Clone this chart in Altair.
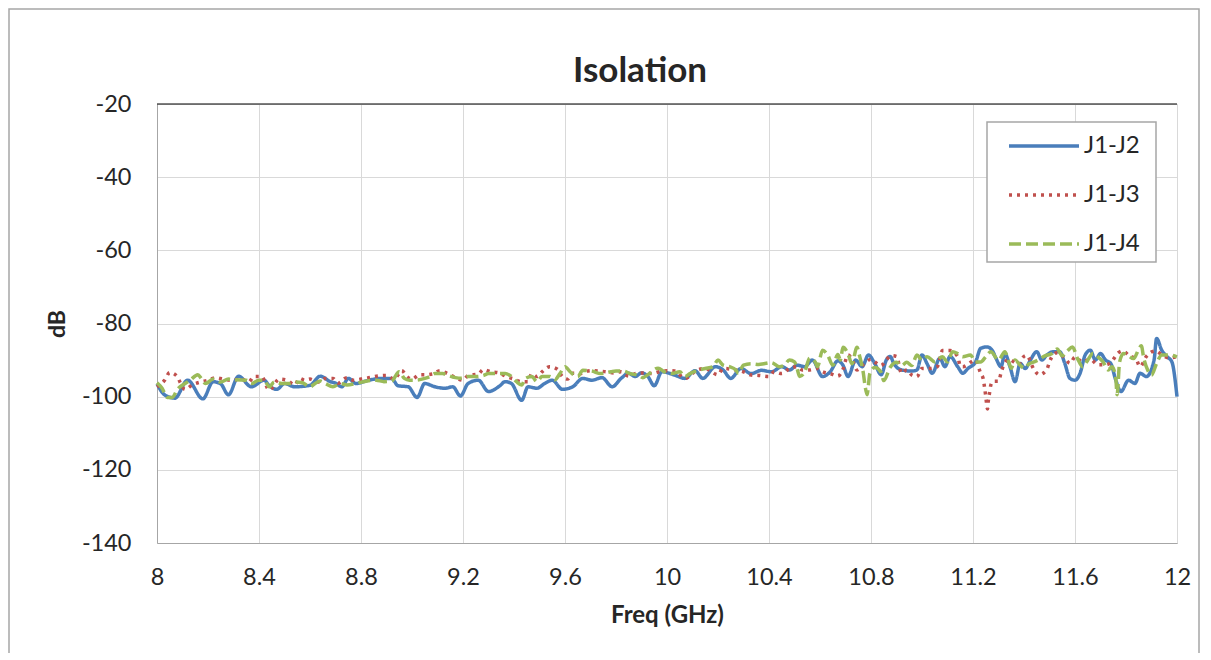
import altair as alt
import pandas as pd

# ---- data ----
series_names = ["J1-J2", "J1-J3", "J1-J4"]
series_colors = ["#4a7ebb", "#c0504d", "#9bbb59"]

j12_freq = [8.00, 8.03, 8.07, 8.12, 8.18, 8.22, 8.25, 8.28, 8.32, 8.37, 8.42, 8.44, 8.47, 8.50, 8.54,
            8.60, 8.64, 8.68, 8.70, 8.725, 8.75, 8.78, 8.83, 8.88, 8.92, 8.945, 8.985, 9.02, 9.05, 9.09,
            9.13, 9.16, 9.19, 9.22, 9.26, 9.30, 9.345, 9.365, 9.39, 9.43, 9.455, 9.49, 9.52, 9.55, 9.59,
            9.63, 9.67, 9.705, 9.745, 9.785, 9.82, 9.85, 9.875, 9.90, 9.925, 9.95, 9.98, 10.03, 10.07,
            10.11, 10.14, 10.19, 10.22, 10.25, 10.29, 10.33, 10.37, 10.41, 10.45, 10.48, 10.51, 10.54,
            10.57, 10.61, 10.64, 10.67, 10.69, 10.71, 10.74, 10.765, 10.79, 10.815, 10.84, 10.86, 10.875,
            10.89, 10.92, 10.96, 10.98, 11.00, 11.02, 11.04, 11.07, 11.09, 11.11, 11.14, 11.16, 11.18,
            11.21, 11.23, 11.255, 11.275, 11.29, 11.31, 11.325, 11.345, 11.365, 11.385, 11.405, 11.425,
            11.45, 11.47, 11.49, 11.515, 11.54, 11.56, 11.58, 11.60, 11.62, 11.64, 11.66, 11.68, 11.70,
            11.72, 11.74, 11.76, 11.78, 11.81, 11.835, 11.855, 11.88, 11.91, 11.92, 11.94, 11.96, 11.98,
            12.00]
j12_db = [-96.5, -99.5, -100.4, -95.5, -100.6, -95.9, -96.5, -99.5, -94.4, -97.3, -95.5, -97.0, -98.0,
          -96.4, -97.3, -96.9, -94.4, -95.9, -96.3, -97.3, -95.0, -96.4, -95.5, -95.0, -95.0, -97.0,
          -97.3, -100.2, -96.4, -97.3, -97.7, -97.3, -99.8, -96.4, -95.5, -98.6, -97.0, -95.9, -96.4,
          -101.0, -97.3, -97.7, -96.4, -95.5, -98.0, -97.3, -95.0, -95.5, -94.8, -97.3, -95.0, -93.6,
          -94.5, -93.5, -94.5, -97.0, -93.2, -94.1, -95.0, -92.9, -95.0, -91.8, -92.7, -95.0, -92.3,
          -93.7, -92.8, -93.2, -91.8, -92.7, -91.4, -91.8, -90.0, -94.5, -93.2, -90.2, -91.4, -94.5,
          -90.0, -91.8, -88.6, -91.0, -94.0, -90.0, -89.0, -91.0, -92.7, -93.0, -92.7, -88.6, -91.0,
          -93.6, -89.5, -91.8, -89.0, -91.8, -93.6, -92.3, -90.5, -86.8, -86.4, -87.3, -89.5, -91.8,
          -88.2, -91.8, -95.9, -90.9, -92.3, -90.0, -87.7, -90.0, -88.6, -87.7, -87.7, -90.9, -95.0,
          -95.5, -93.6, -88.6, -87.3, -90.0, -88.2, -90.0, -90.9, -95.5, -98.6, -95.5, -96.4, -93.6,
          -94.5, -90.0, -84.1, -87.3, -89.0, -90.5, -100.0]

j13_freq = [8.00, 8.03, 8.05, 8.08, 8.09, 8.11, 8.14, 8.17, 8.20, 8.23, 8.26, 8.29, 8.33, 8.36, 8.38,
            8.41, 8.44, 8.48, 8.51, 8.54, 8.56, 8.58, 8.60, 8.63, 8.66, 8.69, 8.71, 8.745, 8.77, 8.80,
            8.82, 8.86, 8.90, 8.93, 8.96, 8.98, 9.00, 9.03, 9.05, 9.08, 9.11, 9.14, 9.17, 9.20, 9.22,
            9.26, 9.28, 9.31, 9.34, 9.37, 9.40, 9.43, 9.455, 9.47, 9.49, 9.51, 9.54, 9.57, 9.59, 9.61,
            9.63, 9.66, 9.69, 9.71, 9.76, 9.79, 9.82, 9.85, 9.875, 9.905, 9.94, 9.97, 10.00, 10.03,
            10.07, 10.12, 10.15, 10.20, 10.22, 10.27, 10.30, 10.33, 10.36, 10.40, 10.42, 10.45, 10.48,
            10.51, 10.53, 10.56, 10.59, 10.61, 10.64, 10.67, 10.69, 10.71, 10.73, 10.745, 10.77, 10.80,
            10.815, 10.84, 10.86, 10.88, 10.90, 10.92, 10.94, 10.96, 10.98, 11.00, 11.03, 11.06, 11.08,
            11.11, 11.14, 11.15, 11.16, 11.21, 11.23, 11.24, 11.245, 11.25, 11.253, 11.257, 11.26,
            11.265, 11.27, 11.28, 11.30, 11.31, 11.32, 11.34, 11.38, 11.39, 11.41, 11.44, 11.46, 11.49,
            11.50, 11.515, 11.53, 11.56, 11.58, 11.60, 11.63, 11.66, 11.69, 11.72, 11.74, 11.77, 11.79,
            11.81, 11.84, 11.855, 11.88, 11.915, 11.95, 11.97, 12.00]
j13_db = [-97.3, -95.5, -93.4, -94.5, -96.0, -98.0, -96.7, -96.0, -95.5, -94.8, -95.2, -95.5, -95.2,
          -96.0, -94.5, -94.5, -98.2, -95.2, -95.5, -96.8, -95.0, -95.5, -95.2, -96.0, -95.0, -95.0,
          -96.3, -94.8, -95.5, -95.2, -95.0, -94.4, -94.2, -95.2, -92.9, -94.5, -95.2, -94.0, -94.0,
          -93.8, -92.9, -93.7, -94.8, -95.5, -94.2, -93.8, -92.6, -93.2, -93.5, -94.5, -95.2, -95.9,
          -95.9, -93.7, -94.5, -93.2, -91.8, -92.5, -94.5, -95.2, -93.6, -93.7, -93.0, -92.9, -93.2,
          -93.5, -93.2, -94.4, -93.7, -93.5, -93.7, -93.2, -92.9, -93.0, -95.0, -92.7, -92.3, -94.0,
          -92.3, -92.7, -93.2, -94.1, -94.2, -94.5, -93.2, -93.7, -92.3, -91.8, -92.7, -92.7, -92.3,
          -93.2, -93.7, -94.4, -92.5, -88.6, -90.5, -92.7, -91.2, -89.8, -90.5, -91.5, -89.9, -88.8,
          -89.0, -93.6, -92.7, -94.1, -94.5, -92.3, -92.3, -91.8, -87.4, -87.4, -89.0, -91.6, -91.8,
          -90.0, -93.6, -95.1, -97.3, -99.9, -101.8, -103.4, -101.2, -98.9, -96.8, -95.8, -95.8,
          -93.5, -91.4, -89.8, -91.2, -89.8, -88.7, -92.7, -94.0, -92.5, -90.5, -88.5, -88.0, -89.4,
          -90.9, -89.2, -90.5, -89.8, -91.3, -91.3, -90.7, -88.0, -87.5, -88.7, -89.8, -91.8, -89.0,
          -87.5, -89.0, -89.4, -89.0]

j14_freq = [8.00, 8.02, 8.04, 8.06, 8.08, 8.11, 8.13, 8.16, 8.175, 8.19, 8.22, 8.25, 8.28, 8.31, 8.35,
            8.37, 8.40, 8.42, 8.44, 8.46, 8.49, 8.52, 8.54, 8.57, 8.60, 8.62, 8.64, 8.66, 8.69, 8.72,
            8.745, 8.78, 8.81, 8.86, 8.89, 8.92, 8.95, 8.97, 8.99, 9.01, 9.05, 9.07, 9.09, 9.12, 9.14,
            9.17, 9.20, 9.22, 9.25, 9.28, 9.30, 9.325, 9.365, 9.39, 9.41, 9.43, 9.445, 9.47, 9.49, 9.51,
            9.54, 9.56, 9.58, 9.60, 9.62, 9.65, 9.67, 9.705, 9.74, 9.78, 9.80, 9.83, 9.855, 9.89, 9.905,
            9.93, 9.965, 9.99, 10.02, 10.05, 10.07, 10.09, 10.12, 10.15, 10.18, 10.20, 10.22, 10.245,
            10.27, 10.28, 10.30, 10.33, 10.36, 10.38, 10.41, 10.44, 10.46, 10.48, 10.50, 10.51, 10.52,
            10.54, 10.56, 10.58, 10.59, 10.61, 10.63, 10.65, 10.67, 10.68, 10.69, 10.71, 10.725, 10.745,
            10.755, 10.77, 10.778, 10.785, 10.79, 10.795, 10.815, 10.84, 10.85, 10.875, 10.90, 10.92,
            10.94, 10.96, 10.98, 11.00, 11.02, 11.05, 11.08, 11.10, 11.12, 11.14, 11.16, 11.19, 11.21,
            11.23, 11.25, 11.27, 11.30, 11.325, 11.34, 11.35, 11.365, 11.385, 11.40, 11.42, 11.44,
            11.455, 11.48, 11.51, 11.53, 11.55, 11.57, 11.59, 11.61, 11.63, 11.65, 11.67, 11.69, 11.71,
            11.73, 11.745, 11.76, 11.765, 11.775, 11.79, 11.805, 11.83, 11.85, 11.86, 11.87, 11.885,
            11.90, 11.92, 11.94, 11.97, 12.00]
j14_db = [-96.2, -97.7, -100.2, -100.2, -98.0, -96.4, -95.5, -94.0, -95.2, -96.4, -95.2, -96.0, -95.2,
          -95.4, -95.5, -96.4, -95.5, -95.5, -97.3, -96.0, -96.4, -96.4, -96.0, -96.2, -97.3, -96.4,
          -95.7, -96.4, -97.3, -96.4, -96.8, -96.4, -95.9, -95.5, -95.9, -95.7, -93.2, -95.0, -95.5,
          -95.5, -95.0, -94.5, -93.7, -93.7, -94.2, -94.8, -95.0, -94.5, -94.5, -94.2, -93.7, -93.7,
          -93.7, -94.5, -95.9, -96.8, -95.0, -94.5, -95.9, -94.5, -94.5, -95.4, -93.7, -91.8, -93.2,
          -94.5, -92.8, -93.0, -93.7, -93.2, -93.0, -93.0, -93.7, -94.2, -94.8, -93.7, -92.2, -93.2,
          -93.7, -93.2, -94.5, -93.7, -92.8, -92.3, -91.8, -90.0, -91.4, -91.8, -92.7, -93.6, -91.4,
          -91.0, -91.2, -91.0, -90.7, -91.8, -91.4, -90.0, -90.5, -92.3, -94.5, -93.2, -89.5, -90.4,
          -91.8, -87.3, -88.6, -91.4, -88.5, -90.0, -86.5, -88.3, -91.0, -86.5, -88.8, -93.6, -97.6,
          -99.5, -96.8, -93.8, -92.0, -93.4, -95.6, -92.0, -90.6, -91.5, -90.6, -91.5, -88.6, -90.0,
          -89.1, -90.5, -89.1, -90.5, -87.7, -88.2, -89.1, -88.6, -90.5, -90.5, -89.1, -87.7, -90.0,
          -87.7, -90.5, -92.2, -90.0, -91.4, -92.2, -91.0, -90.5, -90.0, -88.9, -88.2, -87.0, -88.8,
          -87.5, -86.4, -89.6, -91.8, -90.0, -88.2, -89.1, -90.5, -92.7, -91.8, -95.0, -99.5, -90.5,
          -88.2, -88.6, -89.6, -87.0, -86.1, -89.6, -92.7, -94.1, -90.9, -88.6, -88.6, -89.1]

x_ticks = [8, 8.4, 8.8, 9.2, 9.6, 10, 10.4, 10.8, 11.2, 11.6, 12]
y_ticks = [-140, -120, -100, -80, -60, -40, -20]

rows = []
for name, fr, db in zip(series_names, [j12_freq, j13_freq, j14_freq], [j12_db, j13_db, j14_db]):
    for f, d in zip(fr, db):
        rows.append({"series": name, "freq": f, "dB": d})
df = pd.DataFrame(rows)

FONT = "Lato"
TXT = "#262626"

y_scale = alt.Scale(domain=[y_ticks[0], y_ticks[-1]], nice=False, zero=False)
y_axis = alt.Axis(values=y_ticks, labelExpr="'' + datum.value", title="dB",
                  grid=True, gridColor="#d9d9d9", domainColor="#a6a6a6", ticks=False,
                  labelPadding=26, titlePadding=12, labelFontSize=23.5, titleFontSize=23,
                  labelFont=FONT, titleFont=FONT, labelColor=TXT, titleColor=TXT,
                  titleFontWeight="bold", labelFlush=False)

x_enc = alt.X("freq:Q", scale=alt.Scale(domain=[x_ticks[0], x_ticks[-1]], nice=False, zero=False),
              axis=alt.Axis(values=x_ticks, labelExpr="'' + datum.value", title="Freq (GHz)",
                            grid=True, gridColor="#d9d9d9", domainColor="#a6a6a6", ticks=False,
                            labelPadding=22, titlePadding=15, labelFontSize=23.5, titleFontSize=24,
                            labelFont=FONT, titleFont=FONT, labelColor=TXT, titleColor=TXT,
                            titleFontWeight="bold", labelFlush=False))

lines = alt.Chart(df).mark_line(strokeWidth=3.5, interpolate="monotone").encode(
    x=x_enc,
    y=alt.Y("dB:Q", scale=y_scale, axis=y_axis),
    color=alt.Color("series:N", scale=alt.Scale(domain=series_names, range=series_colors),
                    legend=alt.Legend(title=None, orient="none", legendX=830, legendY=5,
                                      symbolType="stroke", symbolSize=4900, symbolStrokeWidth=3.5,
                                      symbolOffset=20,
                                      labelFontSize=24, labelFont=FONT, labelColor=TXT,
                                      rowPadding=-23, padding=0, labelOffset=3)),
    strokeDash=alt.StrokeDash("series:N", scale=alt.Scale(domain=series_names,
                                                          range=[[1, 0], [3, 5], [12, 5]]),
                              legend=None),
)

top_line = alt.Chart(pd.DataFrame({"dB": [y_ticks[-1]]})).mark_rule(color="#000000", strokeWidth=1.2).encode(
    y=alt.Y("dB:Q", scale=y_scale, axis=y_axis)
)

legend_box = alt.Chart(pd.DataFrame({"v": [0]})).mark_rect(fill="white", stroke="#a6a6a6", strokeWidth=1.5).encode(
    x=alt.value(830), x2=alt.value(999), y=alt.value(18), y2=alt.value(158)
)

frame = alt.Chart(pd.DataFrame({"v": [0]})).mark_rect(fill=None, stroke="#a6a6a6", strokeWidth=1.5).encode(
    x=alt.value(-148), x2=alt.value(1042), y=alt.value(-95), y2=alt.value(600)
)

chart = alt.layer(frame, top_line, lines, legend_box).properties(
    width=1020, height=439,
    title=alt.TitleParams("Isolation", font=FONT, fontSize=35, fontWeight="bold", color=TXT,
                          dx=-27, dy=81, offset=0, frame="group"),
    autosize=alt.AutoSizeParams(type="none"),
    padding={"left": 149, "top": 96, "right": 24, "bottom": 110},
).configure_view(stroke=None).configure(background="white")

chart.save("out.html", embed_options={"renderer": "svg", "actions": False})
